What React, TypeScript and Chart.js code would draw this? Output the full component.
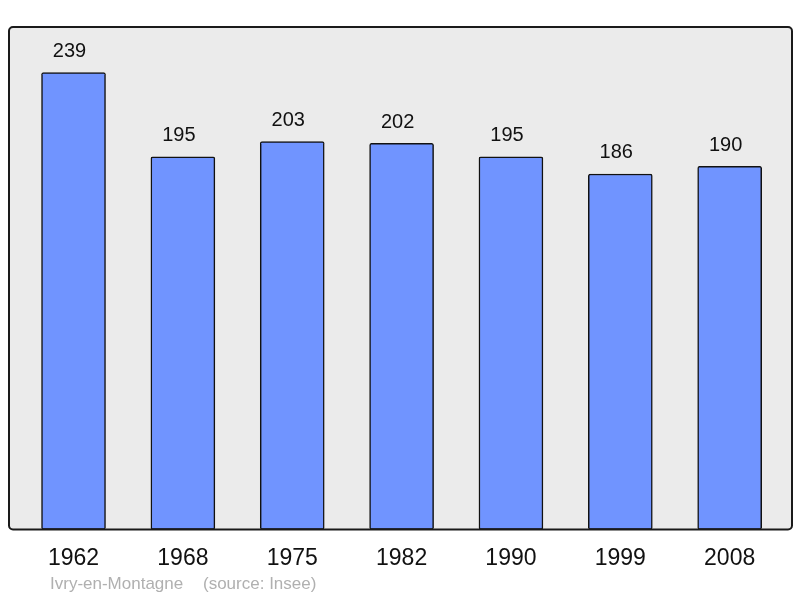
import React, { useEffect, useRef } from "react";
import { Chart, registerables } from "chart.js";

Chart.register(...registerables);

const years = ["1962", "1968", "1975", "1982", "1990", "1999", "2008"];
const population = [239, 195, 203, 202, 195, 186, 190];
const footerTitle = "Ivry-en-Montagne";
const footerSource = "(source: Insee)";

const framePlugin = {
  id: "frame",
  beforeDraw(chart: any) {
    const { ctx, chartArea: a } = chart;
    ctx.save();
    ctx.beginPath();
    ctx.roundRect(a.left, a.top, a.right - a.left, a.bottom - a.top, 4);
    ctx.fillStyle = "#ebebeb";
    ctx.fill();
    ctx.restore();
  },
  afterDatasetsDraw(chart: any) {
    const { ctx, chartArea: a } = chart;
    ctx.save();
    ctx.beginPath();
    ctx.roundRect(a.left, a.top, a.right - a.left, a.bottom - a.top, 4);
    ctx.lineWidth = 2;
    ctx.strokeStyle = "#1a1a1a";
    ctx.stroke();
    // value labels
    const meta = chart.getDatasetMeta(0);
    ctx.fillStyle = "#111";
    ctx.font = "20px 'Liberation Sans', Arial, sans-serif";
    ctx.textAlign = "center";
    ctx.textBaseline = "middle";
    meta.data.forEach((el: any, i: number) => {
      ctx.fillText(String(population[i]), el.x - 4, el.y - 21);
    });
    // footer
    ctx.fillStyle = "#b0b0b0";
    ctx.font = "17px 'Liberation Sans', Arial, sans-serif";
    ctx.textAlign = "left";
    ctx.fillText(footerTitle, 50, 584);
    ctx.fillText(footerSource, 203, 584);
    ctx.restore();
  },
};

export default function App() {
  const ref = useRef<HTMLCanvasElement>(null);
  useEffect(() => {
    const chart = new Chart(ref.current!, {
      type: "bar",
      data: {
        datasets: [
          {
            data: population.map((v, i) => ({ x: i, y: v })),
            backgroundColor: "#7094ff",
            borderColor: "#111",
            borderWidth: 1.5,
            borderRadius: 2,
            borderSkipped: false,
            barThickness: 64,
          },
        ],
      },
      options: {
        animation: false,
        responsive: false,
        maintainAspectRatio: false,
        layout: { padding: { left: 9, right: 8, top: 27, bottom: 11 } },
        plugins: { legend: { display: false }, tooltip: { enabled: false } },
        scales: {
          x: {
            type: "linear",
            offset: false,
            min: -0.59,
            max: 6.57,
            grid: { display: false, drawTicks: false, offset: false },
            border: { display: false },
            afterBuildTicks: (axis: any) => {
              axis.ticks = years.map((_, i) => ({ value: i }));
            },
            ticks: {
              padding: 15,
              color: "#111",
              font: { size: 23, family: "'Liberation Sans', Arial, sans-serif" },
              callback: (v: any) => years[v as number] ?? "",
              maxRotation: 0,
              autoSkip: false,
            },
          },
          y: {
            display: false,
            min: 0,
            max: 262.9,
          },
        },
      },
      plugins: [framePlugin],
    });
    return () => chart.destroy();
  }, []);
  return (
    <div style={{ position: "fixed", left: 0, top: 0, width: 800, height: 598, background: "#fff" }}>
      <canvas ref={ref} width={800} height={598} />
    </div>
  );
}
